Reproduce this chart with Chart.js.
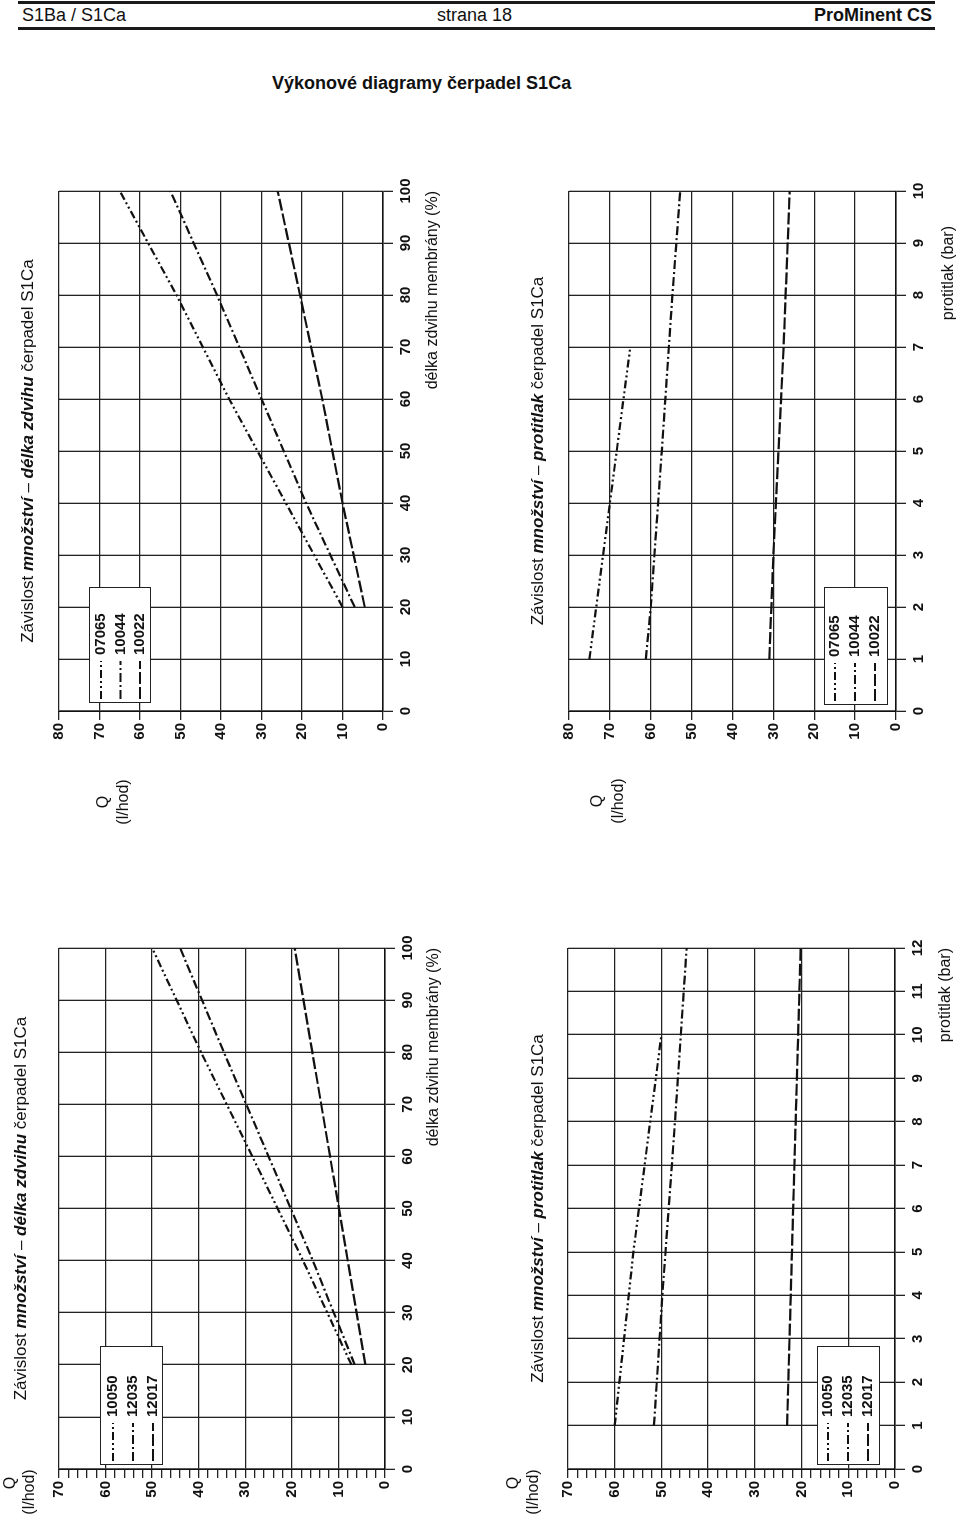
<!DOCTYPE html>
<html lang="cs">
<head>
<meta charset="UTF-8">
<title>Výkonové diagramy čerpadel S1Ca</title>
<script src="https://cdn.jsdelivr.net/npm/chart.js@4.4.0/dist/chart.umd.min.js"></script>
<style>
  body { margin: 0; background: #fff; font-family: "Liberation Sans", Arial, sans-serif; color: #111; }
  .page { position: relative; width: 960px; height: 1519px; overflow: hidden; }
  .rule { position: absolute; left: 18px; width: 917px; height: 3px; background: #1a1a1a; }
  .hdr { position: absolute; top: 5px; font-size: 18px; line-height: 20px; white-space: nowrap; }
  .heading { position: absolute; left: 272px; top: 73px; font-size: 18px; line-height: 20px; font-weight: bold; }
  .panel { position: absolute; transform-origin: 0 0; transform: rotate(-90deg); }
  .panel canvas { position: absolute; left: 0; top: 0; }
  .lbl { position: absolute; white-space: nowrap; transform: translate(-50%, -50%); line-height: 1; font-size: 16px; }
  .ttl { font-size: 17px; }
  .ttl b { font-style: italic; }
  .axt { position: absolute; white-space: nowrap; font-size: 16px; line-height: 1; transform: translateY(-50%); }
</style>
</head>
<body>
<div class="page" id="page">
  <div class="rule" style="top:1px"></div>
  <div class="hdr" style="left:22px">S1Ba / S1Ca</div>
  <div class="hdr" style="left:437px">strana 18</div>
  <div class="hdr" style="right:28px; font-weight:bold">ProMinent CS</div>
  <div class="rule" style="top:27px"></div>
  <div class="heading">Výkonové diagramy čerpadel S1Ca</div>
</div>

<script>
  // ---- data ----
  // Q vs. stroke length, pumps 07065 / 10044 / 10022
  const strokeLen = [20, 40, 60, 80, 100];
  const q07065Len = [10, 24, 38, 51, 65];
  const q10044Len = [7, 19, 30, 41, 52.5];
  const q10022Len = [4.5, 10, 15, 20.5, 26];

  // Q vs. back pressure, pumps 07065 / 10044 / 10022
  const p07065 = [1, 4, 7];
  const q07065P = [75, 70, 65];
  const p10044 = [1, 2, 5, 8, 10];
  const q10044P = [61.2, 60, 57.3, 54.7, 52.8];
  const p10022 = [1, 3, 7, 10];
  const q10022P = [31, 30, 27.5, 26];

  // Q vs. stroke length, pumps 10050 / 12035 / 12017
  const q10050Len = [7.2, 17.6, 28.5, 39.5, 50];
  const q12035Len = [6.5, 15.5, 25, 34.6, 44];
  const q12017Len = [4.2, 8, 11.8, 15.6, 19.4];

  // Q vs. back pressure, pumps 10050 / 12035 / 12017
  const p10050 = [1, 5, 10];
  const q10050P = [60, 56, 50];
  const p12035 = [1, 4, 8, 12];
  const q12035P = [51.6, 49.8, 47.1, 44.6];
  const p12017 = [1, 6, 12];
  const q12017P = [23.1, 21.8, 20.2];

  // axis ranges
  const strokeMax = 100, strokeStep = 10;
  const pressMaxA = 10, pressMaxB = 12, pressStep = 1;
  const qMaxA = 80, qMaxB = 70;

  // line styles
  const DASH_DDOT = [8, 3, 2, 3, 2, 3];
  const DASH_DOT = [9, 3, 2, 3];
  const DASH_LONG = [12, 3];

  const FONT = '"Liberation Sans", Arial, sans-serif';
  const INK = '#111';
  const GRID = '#222';

  const panels = [
    { X: 0, Y: 150, W: 700, H: 470, area: { l: 139, r: 659, t: 59, b: 383 },
      xMax: strokeMax, xStep: strokeStep, qMax: qMaxA, qStep: 10,
      title: 'Závislost <b>množství</b> – <b>délka zdvihu</b> čerpadel S1Ca', titleV: 27,
      axisTitle: 'délka zdvihu membrány (%)', axisV: 432, axisGap: 0,
      qLbl: { uQ: 48, vQ: 103, uU: 48, vU: 123 },
      legend: { u: 8, v: 30, w: 115, h: 61, rows: [12, 31.5, 51] },
      series: [['07065', strokeLen, q07065Len, DASH_DDOT],
               ['10044', strokeLen, q10044Len, DASH_DOT],
               ['10022', strokeLen, q10022Len, DASH_LONG]] },
    { X: 480, Y: 150, W: 700, H: 480, area: { l: 139, r: 659, t: 89, b: 416 },
      xMax: pressMaxA, xStep: pressStep, qMax: qMaxA, qStep: 10,
      title: 'Závislost <b>množství</b> – <b>protitlak</b> čerpadel S1Ca', titleV: 57,
      axisTitle: 'protitlak (bar)', axisV: 468, axisGap: 35,
      qLbl: { uQ: 49, vQ: 117, uU: 49, vU: 138 },
      legend: { u: 6, v: 255, w: 117, h: 63, rows: [11, 31, 51] },
      series: [['07065', p07065, q07065P, DASH_DDOT],
               ['10044', p10044, q10044P, DASH_DOT],
               ['10022', p10022, q10022P, DASH_LONG]] },
    { X: 0, Y: 900, W: 619, H: 470, area: { l: 50, r: 571, t: 59, b: 385 },
      xMax: strokeMax, xStep: strokeStep, qMax: qMaxB, qStep: 2,
      title: 'Závislost <b>množství</b> – <b>délka zdvihu</b> čerpadel S1Ca', titleV: 20,
      axisTitle: 'délka zdvihu membrány (%)', axisV: 433, axisGap: 0,
      qLbl: { uQ: 36, vQ: 10, uU: 27, vU: 29 },
      legend: { u: 4, v: 41, w: 118, h: 62, rows: [13, 33, 53] },
      series: [['10050', strokeLen, q10050Len, DASH_DDOT],
               ['12035', strokeLen, q12035Len, DASH_DOT],
               ['12017', strokeLen, q12017Len, DASH_LONG]] },
    { X: 480, Y: 900, W: 619, H: 480, area: { l: 50, r: 571, t: 88, b: 415 },
      xMax: pressMaxB, xStep: pressStep, qMax: qMaxB, qStep: 2,
      title: 'Závislost <b>množství</b> – <b>protitlak</b> čerpadel S1Ca', titleV: 57,
      axisTitle: 'protitlak (bar)', axisV: 465, axisGap: 0,
      qLbl: { uQ: 36, vQ: 33, uU: 27, vU: 53 },
      legend: { u: 4, v: 249, w: 118, h: 62, rows: [11, 31, 51] },
      series: [['10050', p10050, q10050P, DASH_DDOT],
               ['12035', p12035, q12035P, DASH_DOT],
               ['12017', p12017, q12017P, DASH_LONG]] }
  ];

  // legend box drawn inside the plot area
  function boxLegend(lg) {
    return {
      id: 'boxLegend',
      afterDatasetsDraw(chart) {
        const { ctx, chartArea } = chart;
        const x = chartArea.left + lg.u, y = chartArea.top + lg.v;
        ctx.save();
        ctx.fillStyle = '#fff';
        ctx.fillRect(x, y, lg.w, lg.h);
        ctx.strokeStyle = GRID;
        ctx.lineWidth = 1;
        ctx.strokeRect(x + 0.5, y + 0.5, lg.w, lg.h);
        chart.data.datasets.forEach((ds, i) => {
          const ry = y + lg.rows[i];
          ctx.setLineDash(ds.borderDash);
          ctx.lineWidth = 2;
          ctx.strokeStyle = INK;
          ctx.beginPath();
          ctx.moveTo(x + 4, ry);
          ctx.lineTo(x + 42, ry);
          ctx.stroke();
          ctx.setLineDash([]);
          ctx.fillStyle = INK;
          ctx.font = 'bold 15px ' + FONT;
          ctx.textBaseline = 'middle';
          ctx.fillText(ds.label, x + 48, ry);
        });
        ctx.restore();
      }
    };
  }

  const page = document.getElementById('page');
  const AXIS_W = 40, AXIS_H = 40;

  panels.forEach(p => {
    const box = document.createElement('div');
    box.className = 'panel';
    box.style.left = p.X + 'px';
    box.style.top = (p.Y + p.W) + 'px';
    box.style.width = p.W + 'px';
    box.style.height = p.H + 'px';

    const canvas = document.createElement('canvas');
    canvas.width = p.W;
    canvas.height = p.H;
    box.appendChild(canvas);

    const a = p.area;
    const add = (cls, html, css) => {
      const el = document.createElement('div');
      el.className = cls;
      el.innerHTML = html;
      Object.assign(el.style, css);
      box.appendChild(el);
    };
    add('lbl ttl', p.title, { left: ((a.l + a.r) / 2) + 'px', top: p.titleV + 'px' });
    add('axt', p.axisTitle, { right: (p.W - a.r + p.axisGap) + 'px', top: p.axisV + 'px' });
    add('lbl', 'Q', { left: p.qLbl.uQ + 'px', top: p.qLbl.vQ + 'px' });
    add('lbl', '(l/hod)', { left: p.qLbl.uU + 'px', top: p.qLbl.vU + 'px' });
    page.appendChild(box);

    const datasets = p.series.map(([label, xs, ys, dash]) => ({
      label,
      data: xs.map((x, i) => ({ x, y: ys[i] })),
      borderColor: INK,
      borderWidth: 2.2,
      borderDash: dash,
      pointRadius: 0,
      fill: false,
      tension: 0
    }));

    new Chart(canvas, {
      type: 'line',
      data: { datasets },
      options: {
        responsive: false,
        animation: false,
        layout: { padding: { left: a.l - AXIS_W, right: p.W - a.r, top: a.t, bottom: p.H - a.b - AXIS_H } },
        plugins: { legend: { display: false }, tooltip: { enabled: false } },
        scales: {
          x: {
            type: 'linear', min: 0, max: p.xMax,
            afterFit: s => { s.height = AXIS_H; },
            ticks: { stepSize: p.xStep, autoSkip: false, maxRotation: 0, padding: 4,
                     color: INK, font: { family: FONT, size: 15, weight: 'bold' } },
            grid: { color: GRID, lineWidth: 1.3, tickLength: 10, tickColor: GRID },
            border: { color: INK, width: 1.6 }
          },
          y: {
            type: 'linear', min: 0, max: p.qMax,
            afterFit: s => { s.width = AXIS_W; },
            ticks: { stepSize: p.qStep, autoSkip: false, padding: 3,
                     callback: v => (v % 10 === 0 ? v : ''),
                     color: INK, font: { family: FONT, size: 15, weight: 'bold' } },
            grid: { color: c => (c.tick && c.tick.value % 10 === 0 ? GRID : 'rgba(0,0,0,0)'),
                    lineWidth: 1.3, tickLength: 9, tickColor: GRID },
            border: { color: INK, width: 1.6 }
          }
        }
      },
      plugins: [boxLegend(p.legend)]
    });
  });
</script>
</body>
</html>
